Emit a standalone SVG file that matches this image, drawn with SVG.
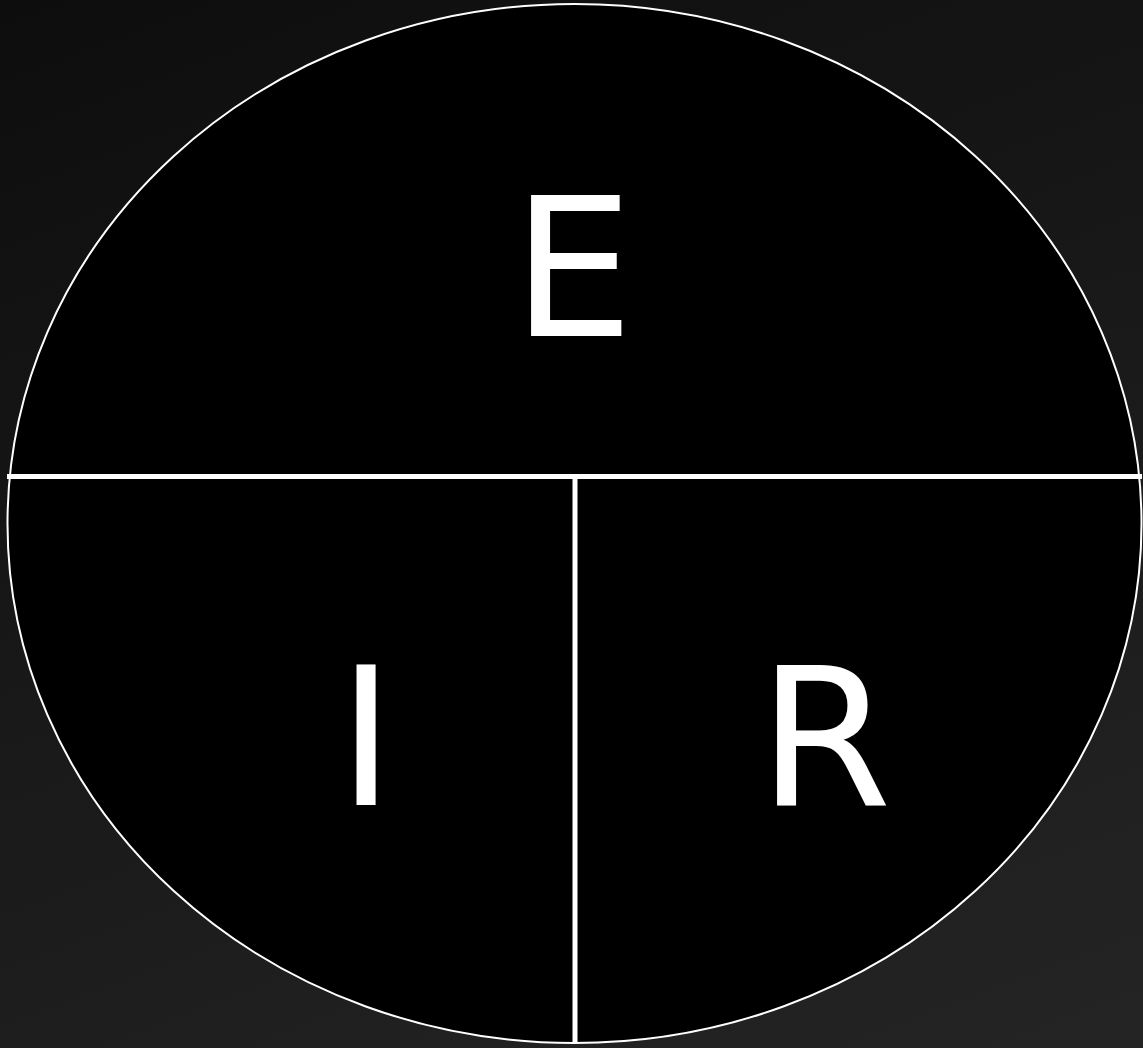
<svg xmlns="http://www.w3.org/2000/svg" width="1143" height="1048" viewBox="0 0 1143 1048">
<style>
.lbl{font-family:"DejaVu Sans",sans-serif;font-size:192px;fill:#ffffff;text-anchor:middle}
.div{stroke:#ffffff;stroke-width:5;fill:none}
</style>
<defs>
<linearGradient id="bg" gradientUnits="userSpaceOnUse" x1="300" y1="-200" x2="843" y2="1248">
<stop offset="0" stop-color="#0c0c0c"/>
<stop offset="1" stop-color="#262626"/>
</linearGradient>
</defs>
<rect width="1143" height="1048" fill="url(#bg)"/>
<g id="circle">
<ellipse cx="574.5" cy="523.5" rx="567" ry="519.5" fill="#000000" stroke="#ffffff" stroke-width="2"/>
</g>
<g id="connectors">
<line class="div" x1="7" y1="476.5" x2="1142" y2="476.5"/>
<line class="div" x1="575" y1="476.5" x2="575" y2="1043"/>
</g>
<g id="E"><text class="lbl" x="573" y="336">E</text></g>
<g id="I"><text class="lbl" x="366" y="805">I</text></g>
<g id="R"><text class="lbl" x="825" y="805">R</text></g>
</svg>
